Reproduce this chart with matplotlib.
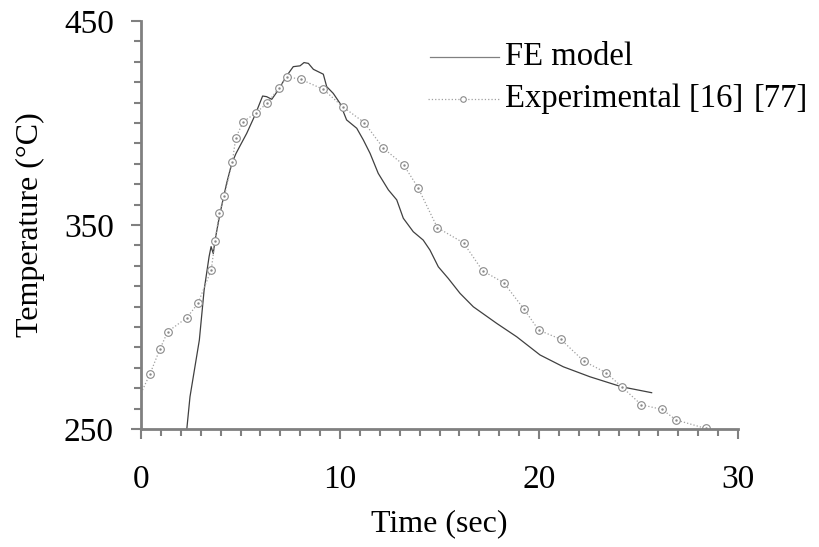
import matplotlib
matplotlib.use("Agg")
import matplotlib.pyplot as plt
from matplotlib.ticker import MultipleLocator, FixedLocator

plt.rcParams['font.family'] = ['Liberation Serif', 'DejaVu Serif']

# FE model (solid line)
fe_t = [2.30, 2.46, 2.93, 3.17, 3.42, 3.52, 3.63, 3.72, 3.97, 4.30, 4.56, 4.77, 4.97,
        5.31, 5.73, 6.11, 6.31, 6.57, 6.90, 7.29, 7.65, 7.99, 8.19, 8.41, 8.66, 8.91,
        9.16, 9.33, 9.66, 10.00, 10.33, 10.84, 11.17, 11.51, 11.92, 12.43, 12.85,
        13.18, 13.68, 14.18, 14.52, 14.94, 15.44, 16.03, 16.70, 17.87, 18.88, 20.05,
        21.22, 22.56, 24.15, 25.66]
fe_T = [250.0, 265.8, 293.6, 318.1, 334.5, 339.4, 336.0, 342.6, 355.7, 370.4, 380.2,
        385.0, 388.7, 394.9, 403.9, 413.2, 412.9, 411.6, 416.2, 422.7, 427.6, 428.0,
        429.6, 429.2, 426.3, 425.1, 423.9, 417.8, 414.5, 409.6, 401.5, 397.4, 391.7,
        385.1, 375.3, 367.2, 362.3, 353.3, 346.7, 342.6, 337.7, 329.5, 323.8, 316.5,
        309.9, 301.8, 295.2, 286.3, 280.5, 275.6, 270.7, 267.8]

# Experimental [16] (dotted line with circles)
exp_t = [0.0, 0.45, 0.95, 1.34, 2.31, 2.86, 3.53, 3.72, 3.93, 4.19, 4.59, 4.76, 5.14,
         5.78, 6.35, 6.92, 7.32, 8.02, 9.16, 10.13, 11.22, 12.18, 13.20, 13.92, 14.89,
         16.21, 17.17, 18.23, 19.25, 19.98, 21.09, 22.26, 23.37, 24.17, 25.14, 26.18,
         26.90, 28.37]
exp_T = [267.6, 277.0, 289.2, 297.7, 304.6, 311.6, 328.0, 342.3, 355.7, 364.4, 381.0,
         392.8, 400.6, 405.0, 409.8, 417.0, 422.7, 421.4, 416.5, 408.0, 400.2, 387.6,
         379.4, 368.3, 348.7, 341.2, 327.5, 321.7, 308.7, 298.5, 294.0, 283.2, 277.6,
         270.6, 261.9, 259.6, 254.4, 250.3]

y_ticks = [250, 350, 450]
x_ticks = [0, 10, 20, 30]

fig = plt.figure(figsize=(8.2, 5.47), dpi=100)
ax = fig.add_axes([0.172, 0.2157, 0.728, 0.746])

ax.plot(fe_t, fe_T, color='#404040', lw=0.9)
ax.plot(exp_t, exp_T, color='#a0a0a0', lw=0.9, ls=':',
        marker='o', ms=5.5, mfc='white', mec='#8a8a8a', mew=0.8,
        markevery=list(range(1, len(exp_t))))
ax.plot(exp_t[1:], exp_T[1:], ls='none', marker='.', ms=1.5, color='#8a8a8a')

ax.set_xlim(0, 30)
ax.set_ylim(250, 450)
ax.xaxis.set_major_locator(FixedLocator(x_ticks))
ax.xaxis.set_minor_locator(MultipleLocator(1))
ax.yaxis.set_major_locator(FixedLocator(y_ticks))
ax.yaxis.set_minor_locator(MultipleLocator(10))

for s in ['top', 'right']:
    ax.spines[s].set_visible(False)
for s in ['left', 'bottom']:
    ax.spines[s].set_color('#808080')
    ax.spines[s].set_linewidth(2)
ax.tick_params(which='major', length=7.5, width=1.5, color='#808080',
               labelsize=24)
ax.tick_params(axis='y', which='major', pad=12)
ax.tick_params(axis='x', which='major', pad=18)
ax.tick_params(which='minor', length=5, width=1.5, color='#808080')

ax.set_xlabel('Time (sec)', fontsize=23, labelpad=10)
ax.set_ylabel('Temperature (°C)', fontsize=23, labelpad=14)

# legend drawn by hand in axes coordinates
ax.plot([0.484, 0.6], [0.912, 0.912], transform=ax.transAxes,
        color='#808080', lw=0.9, clip_on=False)
ax.text(0.61, 0.912, 'FE model', transform=ax.transAxes, fontsize=23.5, va='center')
ax.plot([0.481, 0.6], [0.809, 0.809], transform=ax.transAxes,
        color='#a0a0a0', lw=0.9, ls=':', clip_on=False)
ax.plot([0.54], [0.809], transform=ax.transAxes, marker='o', ms=4,
        mfc='white', mec='#8a8a8a', mew=0.8, clip_on=False)
ax.text(0.61, 0.809, 'Experimental [16]', transform=ax.transAxes, fontsize=23.5, va='center')
ax.text(1.027, 0.809, '[77]', transform=ax.transAxes, fontsize=23.5, va='center')

fig.savefig('out.png', dpi=100)
